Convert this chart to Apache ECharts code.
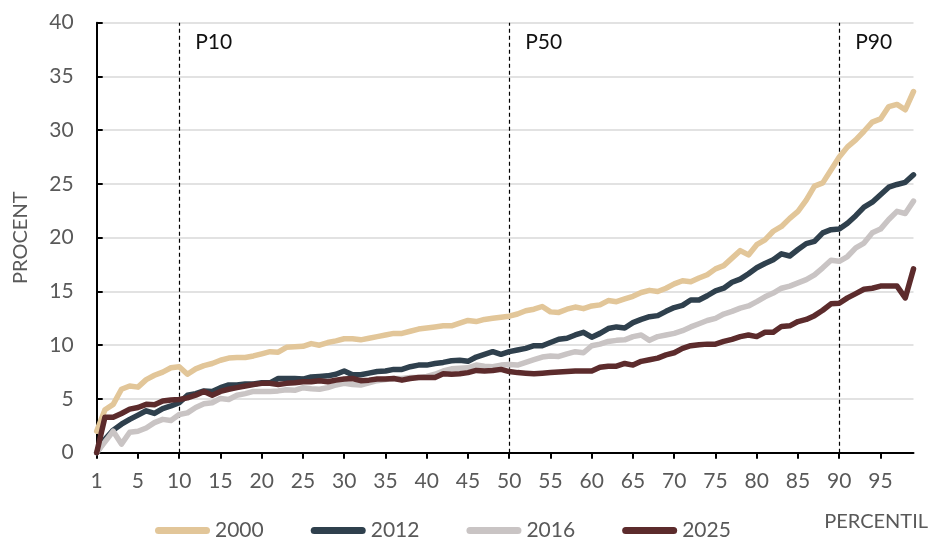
<!DOCTYPE html>
<html><head><meta charset="utf-8">
<script src="https://cdn.jsdelivr.net/npm/echarts@6/dist/echarts.min.js"></script>
<style>html,body{margin:0;padding:0;background:#fff}#c{width:930px;height:540px}</style>
</head><body><div id="c"></div>
<script>
// Percentile positions (first position is labelled "1")
const PCT = [0,1,2,3,4,5,6,7,8,9,10,11,12,13,14,15,16,17,18,19,20,21,22,23,24,25,26,27,28,29,30,31,32,33,34,35,36,37,38,39,40,41,42,43,44,45,46,47,48,49,50,51,52,53,54,55,56,57,58,59,60,61,62,63,64,65,66,67,68,69,70,71,72,73,74,75,76,77,78,79,80,81,82,83,84,85,86,87,88,89,90,91,92,93,94,95,96,97,98,99];
const X_TICKS = [0,5,10,15,20,25,30,35,40,45,50,55,60,65,70,75,80,85,90,95];
const X_TICK_LABELS = ['1','5','10','15','20','25','30','35','40','45','50','55','60','65','70','75','80','85','90','95'];
const MARKERS = [10, 50, 90];
const MARKER_LABELS = ['P10', 'P50', 'P90'];
const SERIES_NAMES = ['2000', '2012', '2016', '2025'];

const S2000 = [2.0,4.0,4.5,5.9,6.2,6.1,6.8,7.2,7.5,7.9,
  8.0,7.3,7.8,8.1,8.3,8.6,8.8,8.85,8.85,9.0,
  9.2,9.4,9.35,9.8,9.85,9.9,10.15,10.0,10.25,10.4,
  10.6,10.6,10.5,10.65,10.8,10.95,11.1,11.1,11.3,11.5,
  11.6,11.7,11.8,11.8,12.05,12.3,12.2,12.4,12.5,12.6,
  12.7,12.9,13.2,13.35,13.6,13.1,13.05,13.35,13.55,13.4,
  13.65,13.75,14.15,14.05,14.3,14.55,14.9,15.1,15.0,15.3,
  15.7,16.0,15.9,16.25,16.55,17.1,17.4,18.1,18.8,18.4,
  19.35,19.8,20.6,21.05,21.8,22.45,23.5,24.8,25.1,26.3,
  27.5,28.45,29.1,29.9,30.75,31.05,32.2,32.4,31.9,33.6];
const S2012 = [0,1.25,2.1,2.65,3.1,3.5,3.9,3.65,4.1,4.35,
  4.65,5.35,5.5,5.75,5.7,6.05,6.3,6.3,6.4,6.4,
  6.5,6.5,6.9,6.9,6.9,6.85,7.05,7.1,7.15,7.3,
  7.6,7.25,7.25,7.4,7.55,7.6,7.75,7.75,8.0,8.15,
  8.15,8.3,8.4,8.55,8.6,8.5,8.9,9.15,9.4,9.15,
  9.4,9.55,9.7,9.95,9.95,10.25,10.55,10.65,10.95,11.2,
  10.75,11.1,11.55,11.7,11.6,12.1,12.4,12.65,12.75,13.15,
  13.5,13.7,14.2,14.2,14.6,15.05,15.3,15.85,16.15,16.65,
  17.2,17.6,17.95,18.5,18.3,18.9,19.45,19.65,20.45,20.75,
  20.8,21.35,22.05,22.85,23.3,24.0,24.7,24.95,25.15,25.85];
const S2016 = [0,1.0,2.0,0.8,1.9,2.0,2.3,2.8,3.1,3.0,
  3.55,3.7,4.2,4.55,4.65,5.05,4.95,5.35,5.5,5.7,
  5.7,5.7,5.75,5.85,5.8,6.05,5.95,5.9,6.05,6.3,
  6.45,6.35,6.3,6.5,6.7,6.8,6.9,6.9,7.0,7.0,
  7.1,7.3,7.6,7.8,7.85,7.9,8.15,8.05,8.0,8.15,
  8.2,8.15,8.4,8.65,8.9,9.0,8.95,9.2,9.4,9.3,
  9.95,10.1,10.35,10.45,10.5,10.8,10.95,10.45,10.8,10.95,
  11.1,11.35,11.7,12.0,12.3,12.5,12.9,13.15,13.45,13.65,
  14.05,14.5,14.85,15.3,15.5,15.8,16.1,16.55,17.2,17.9,
  17.8,18.25,19.05,19.5,20.45,20.8,21.7,22.45,22.25,23.4];
const S2025 = [0,3.3,3.3,3.65,4.05,4.2,4.5,4.45,4.8,4.9,
  4.95,5.1,5.35,5.7,5.35,5.7,5.9,6.05,6.2,6.35,
  6.45,6.45,6.35,6.45,6.5,6.6,6.6,6.7,6.6,6.75,
  6.85,6.9,6.7,6.75,6.85,6.85,6.9,6.75,6.9,7.0,
  7.0,7.0,7.35,7.3,7.35,7.45,7.65,7.6,7.65,7.75,
  7.55,7.45,7.4,7.35,7.4,7.45,7.5,7.55,7.6,7.6,
  7.6,7.95,8.05,8.05,8.3,8.15,8.5,8.65,8.8,9.1,
  9.3,9.7,9.95,10.05,10.1,10.1,10.35,10.55,10.8,10.95,
  10.8,11.2,11.2,11.75,11.8,12.2,12.4,12.75,13.25,13.85,
  13.9,14.4,14.8,15.2,15.3,15.5,15.5,15.5,14.4,17.1];

const COLORS = ['#e2c699', '#2f404d', '#c9c4c4', '#5c2b2c'];
const VALUES = [S2000, S2012, S2016, S2025];
const FONT = 'Lato, "Noto Sans", sans-serif';
const GREY = '#595959';

const chart = echarts.init(document.getElementById('c'), null, {renderer: 'canvas'});

const series = SERIES_NAMES.map(function (name, i) {
  const s = {
    name: name,
    type: 'line',
    data: PCT.map(function (p, k) { return [p, VALUES[i][k]]; }),
    symbol: 'none',
    smooth: false,
    lineStyle: {width: 5.5, color: COLORS[i], cap: 'round', join: 'round'},
    itemStyle: {color: COLORS[i]},
    emphasis: {disabled: true},
    z: 3 + i
  };
  if (i === 0) {
    s.markLine = {
      silent: true,
      symbol: 'none',
      label: {show: false},
      lineStyle: {color: '#000', width: 1.2, type: [4, 3]},
      data: MARKERS.map(function (m) { return {xAxis: m}; }),
      z: 1
    };
    s.markPoint = {
      silent: true,
      symbol: 'circle',
      symbolSize: 0,
      label: {
        show: true, position: 'right', distance: 16,
        fontFamily: FONT, fontSize: 21, color: '#111',
        formatter: function (p) { return p.name; }
      },
      data: MARKERS.map(function (m, k) { return {name: MARKER_LABELS[k], coord: [m, 38.2]}; })
    };
  }
  return s;
});

const iconPath = 'path://M3.5,0 L51.5,0 A3.5,3.5 0 0 1 51.5,7 L3.5,7 A3.5,3.5 0 0 1 3.5,0 Z';

chart.setOption({
  animation: false,
  backgroundColor: '#fff',
  grid: {left: 96.7, right: 16.5, top: 22.7, bottom: 87.3, containLabel: false, outerBoundsMode: 'none'},
  title: {
    text: 'PERCENTIL', right: 2, top: 512, padding: 0,
    textStyle: {fontFamily: FONT, fontSize: 20, fontWeight: 'normal', color: GREY}
  },
  legend: {
    left: 155, top: 520, padding: 0,
    itemGap: 47, itemWidth: 55, itemHeight: 7,
    icon: iconPath,
    textStyle: {fontFamily: FONT, fontSize: 21, color: GREY},
    data: SERIES_NAMES.map(function (n) { return {name: n, icon: iconPath}; })
  },
  xAxis: {
    type: 'value', min: 0, max: 99,
    axisLine: {show: true, onZero: false, lineStyle: {color: '#000', width: 2}},
    axisTick: {show: true, inside: false, length: 6, lineStyle: {color: '#000', width: 2}, customValues: X_TICKS},
    axisLabel: {
      show: true, margin: 18, fontFamily: FONT, fontSize: 21, color: GREY,
      customValues: X_TICKS,
      formatter: function (v) { const k = X_TICKS.indexOf(v); return k >= 0 ? X_TICK_LABELS[k] : ''; }
    },
    splitLine: {show: false}
  },
  yAxis: {
    type: 'value', min: 0, max: 40, interval: 5,
    name: 'PROCENT', nameLocation: 'middle', nameGap: 66, nameRotate: 90,
    nameTextStyle: {fontFamily: FONT, fontSize: 20, color: GREY},
    axisLine: {show: true, lineStyle: {color: '#000', width: 2}},
    axisTick: {show: true, inside: true, length: 6, lineStyle: {color: '#000', width: 2}},
    axisLabel: {margin: 23, fontFamily: FONT, fontSize: 21, color: GREY},
    splitLine: {show: true, lineStyle: {color: '#d9d9d9', width: 1.5}}
  },
  series: series
});
</script>
</body></html>
